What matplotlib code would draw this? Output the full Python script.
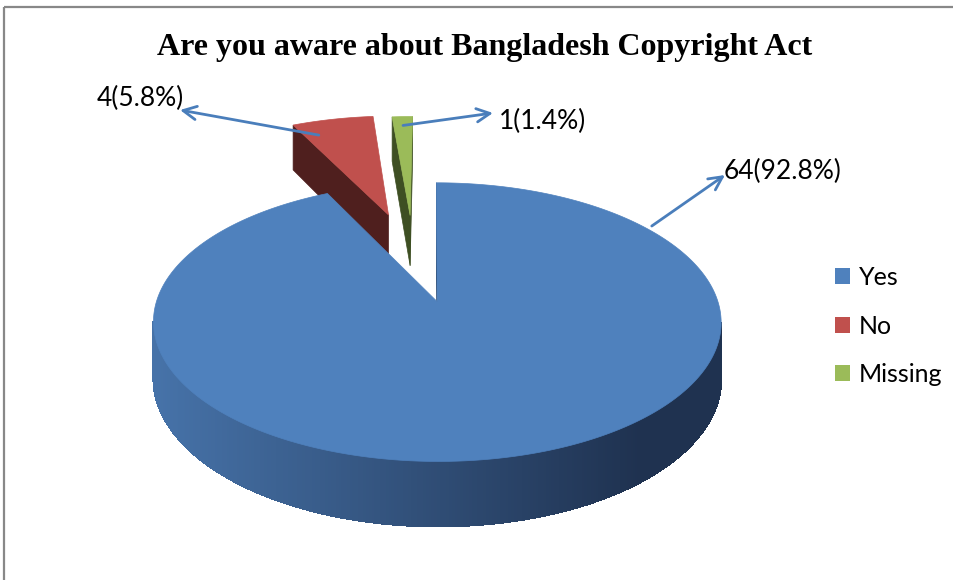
import numpy as np
import matplotlib
matplotlib.use("Agg")
import matplotlib.pyplot as plt
from matplotlib.patches import Polygon, Patch
from matplotlib.collections import PolyCollection

title = "Are you aware about Bangladesh Copyright Act"
categories = ["Yes", "No", "Missing"]
counts = [64, 4, 1]
percents = [92.8, 5.8, 1.4]
slice_labels = ["{}({}%)".format(c, p) for c, p in zip(counts, percents)]

top_colors = ["#4F81BD", "#C0504D", "#9BBB59"]
side_colors = ["#2B4669", "#4F1F1E", "#3E4F23"]
wall_light = np.array([0x46, 0x72, 0xA8]) / 255.0
wall_dark = np.array([0x1F, 0x32, 0x50]) / 255.0

# explode offset of each slice, in pie radius units (across, depth)
offsets = [(0.022, -0.097), (-0.167, 0.605), (-0.082, 0.60)]
# where the leader line starts: (fraction of slice angle, radius)
anchors = [(0.838, 1.03), (0.81, 0.85), (0.5, 0.9)]
label_pos = [(724, 171), (97, 98), (499, 121)]
arrow_heads = [(725, 175), (180, 110), (493, 113)]

# pseudo 3d projection, pixels
CX, CY = 431, 288.6
RX, KY, KZ = 276.8, 132.5, 54.6
P = 0.145
CAM = 1.0 / P


def project(u, v, z=0.0):
    s = 1.0 / (1.0 + P * v)
    return CX + RX * u * s, CY - (KY * v + KZ * z) * s


def wall_color(x, i):
    if i != 0:
        return side_colors[i]
    t = np.clip((x - 160) / (640 - 160), 0, 1)
    return tuple(wall_light * (1 - t) + wall_dark * t)


def draw_slice(ax, i, a0, a1):
    du, dv = offsets[i]
    n = max(int(abs(a1 - a0) * 2), 8)
    th = np.radians(np.linspace(a0, a1, n))

    # cut faces
    for ang, sgn in ((a0, -1), (a1, 1)):
        nr = np.radians(ang + sgn * 90)
        nu, nv = np.cos(nr), np.sin(nr)
        if nu * (0 - du) + nv * (-CAM - dv) > 0:
            pu = du + np.cos(np.radians(ang))
            pv = dv + np.sin(np.radians(ang))
            pts = [project(du, dv), project(pu, pv), project(pu, pv, -1), project(du, dv, -1)]
            ax.add_patch(Polygon(pts, closed=True, fc=side_colors[i], ec=side_colors[i], lw=0.5))

    # outer wall
    quads, cols = [], []
    for k in range(n - 1):
        m = 0.5 * (th[k] + th[k + 1])
        pu, pv = du + np.cos(m), dv + np.sin(m)
        if np.cos(m) * (0 - pu) + np.sin(m) * (-CAM - pv) <= 0:
            continue
        u0, v0 = du + np.cos(th[k]), dv + np.sin(th[k])
        u1, v1 = du + np.cos(th[k + 1]), dv + np.sin(th[k + 1])
        q = [project(u0, v0), project(u1, v1), project(u1, v1, -1), project(u0, v0, -1)]
        quads.append(q)
        cols.append(wall_color(project(pu, pv)[0], i))
    if quads:
        ax.add_collection(PolyCollection(quads, facecolors=cols, edgecolors=cols,
                                         linewidths=0.8, antialiased=False))

    # top face
    pts = [project(du, dv)] + [project(du + np.cos(t), dv + np.sin(t)) for t in th]
    ax.add_patch(Polygon(pts, closed=True, fc=top_colors[i], ec=top_colors[i], lw=0.5))


fig = plt.figure(figsize=(9.54, 5.80), dpi=100)
ax = fig.add_axes([0, 0, 1, 1])
ax.set_xlim(0, 954)
ax.set_ylim(580, 0)
ax.axis("off")

fracs = np.array(counts) / sum(counts)
ends = 90 - 360 * np.cumsum(fracs)
starts = np.r_[90, ends[:-1]]

# far slices first
order = sorted(range(len(counts)), key=lambda i: -offsets[i][1])
for i in order:
    draw_slice(ax, i, ends[i], starts[i])

# leader lines + labels
for i in range(len(counts)):
    fa, r = anchors[i]
    ang = np.radians(ends[i] + fa * (starts[i] - ends[i]))
    du, dv = offsets[i]
    tail = project(du + r * np.cos(ang), dv + r * np.sin(ang))
    ax.annotate("", xy=arrow_heads[i], xytext=tail,
                arrowprops=dict(arrowstyle="->", color="#4A7EBB", lw=2,
                                mutation_scale=24, shrinkA=0, shrinkB=0))
    ax.text(label_pos[i][0], label_pos[i][1], slice_labels[i], ha="left", va="center",
            fontsize=19, family="Lato", color="black")

ax.text(485, 48, title, ha="center", va="center", fontsize=23,
        family="Liberation Serif", weight="bold")

handles = [Patch(fc=c, ec="none") for c in top_colors]
ax.legend(handles, categories, loc="center left", bbox_to_anchor=(835, 326),
          bbox_transform=ax.transData, frameon=False, borderpad=0, borderaxespad=0,
          prop={"family": "Lato", "size": 18},
          handlelength=0.6, handleheight=0.6, handletextpad=0.35, labelspacing=1.02)

# chart border (only left and top visible)
ax.plot([4.5, 4.5], [580, 6.5], color="#888888", lw=1.6, solid_capstyle="butt")
ax.plot([4.5, 954], [6.5, 6.5], color="#888888", lw=1.6, solid_capstyle="butt")

fig.savefig("out.png", dpi=100)
